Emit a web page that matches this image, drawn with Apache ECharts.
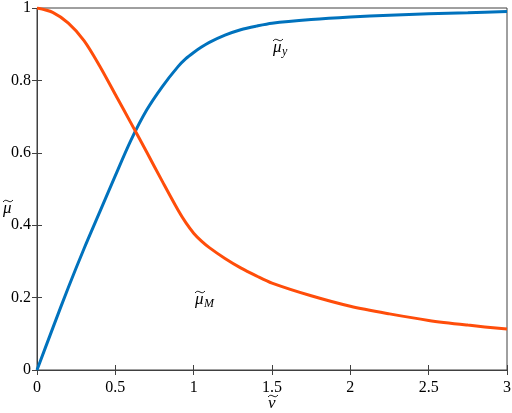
<!DOCTYPE html>
<html>
<head>
<meta charset="utf-8">
<script src="https://cdn.jsdelivr.net/npm/echarts@6/dist/echarts.min.js"></script>
<style>
html,body{margin:0;padding:0;background:#fff;}
#chart{width:512px;height:413px;}
</style>
</head>
<body>
<div id="chart"></div>
<script>
// values
var vTilde = [0, 0.1, 0.2, 0.3, 0.4, 0.5, 0.6, 0.7, 0.8, 0.9, 0.95, 1.0, 1.05, 1.1, 1.2, 1.3, 1.4, 1.5, 1.75, 2, 2.25, 2.5, 2.75, 3];
var muY = [0, 0.115, 0.228, 0.335, 0.436, 0.537, 0.635, 0.718, 0.783, 0.838, 0.86, 0.877, 0.892, 0.905, 0.925, 0.94, 0.95, 0.958, 0.968, 0.975, 0.98, 0.984, 0.987, 0.99];
var muM = [1, 0.988, 0.958, 0.91, 0.84, 0.761, 0.682, 0.602, 0.521, 0.442, 0.407, 0.378, 0.356, 0.338, 0.308, 0.282, 0.26, 0.24, 0.205, 0.176, 0.155, 0.137, 0.124, 0.113];
var xTicks = [0, 0.5, 1, 1.5, 2, 2.5, 3];
var yTicks = [0, 0.2, 0.4, 0.6, 0.8, 1];

function pairs(xs, ys) {
    var out = [];
    for (var i = 0; i < xs.length; i++) {
        out.push([xs[i], ys[i]]);
    }
    return out;
}

var serif = '"Liberation Serif", serif';
var axisColor = '#404040';

// a letter with a little wave over it, plus an optional subscript
function tildeLabel(x, y, letter, sub) {
    var kids = [
        {type: 'text', x: 0, y: 0, style: {text: letter, font: 'italic 17px ' + serif, fill: '#000', verticalAlign: 'middle'}},
        {type: 'bezierCurve', x: 0, y: -9,
            shape: {x1: 0, y1: 2, x2: 10, y2: 0, cpx1: 4, cpy1: -3, cpx2: 6, cpy2: 5},
            style: {fill: null, stroke: '#000', lineWidth: 0.9}}
    ];
    if (sub) {
        kids.push({type: 'text', x: 9, y: 4, style: {text: sub, font: 'italic 12px ' + serif, fill: '#000', verticalAlign: 'middle'}});
    }
    return {type: 'group', x: x, y: y, children: kids};
}

// tick text drawn through rich text so the serif face sticks
var tickRich = {t: {fontFamily: serif, fontSize: 16, color: '#000'}};
function tickText(val) {
    return '{t|' + val + '}';
}

var myChart = echarts.init(document.getElementById('chart'));
var option = {
    backgroundColor: '#fff',
    animation: false,
    textStyle: {fontFamily: serif},
    grid: {left: 37, right: 5, top: 8, bottom: 43, outerBoundsMode: 'none', containLabel: false, show: true, borderColor: axisColor, borderWidth: 1},
    xAxis: [
        {
            type: 'value', min: 0, max: 3, interval: 0.5,
            axisLine: {show: true, lineStyle: {color: axisColor}},
            axisTick: {inside: true, length: 5, lineStyle: {color: axisColor}},
            axisLabel: {fontFamily: serif, fontSize: 16, color: '#000', margin: 10, formatter: tickText, rich: tickRich},
            splitLine: {show: false}
        },
        {
            type: 'value', min: 0, max: 3, interval: 0.5, position: 'top',
            axisLine: {show: true, lineStyle: {color: axisColor}},
            axisTick: {inside: true, length: 5, lineStyle: {color: axisColor}},
            axisLabel: {show: false},
            splitLine: {show: false}
        }
    ],
    yAxis: [
        {
            type: 'value', min: 0, max: 1, interval: 0.2,
            axisLine: {show: true, lineStyle: {color: axisColor}},
            axisTick: {inside: true, length: 5, lineStyle: {color: axisColor}},
            axisLabel: {fontFamily: serif, fontSize: 16, color: '#000', margin: 6, formatter: tickText, rich: tickRich},
            splitLine: {show: false}
        },
        {
            type: 'value', min: 0, max: 1, interval: 0.2, position: 'right',
            axisLine: {show: true, lineStyle: {color: axisColor}},
            axisTick: {inside: true, length: 5, lineStyle: {color: axisColor}},
            axisLabel: {show: false},
            splitLine: {show: false}
        }
    ],
    series: [
        {
            type: 'line', smooth: 0.3, showSymbol: false,
            data: pairs(vTilde, muY),
            lineStyle: {color: '#0072BD', width: 3},
            itemStyle: {color: '#0072BD'}
        },
        {
            type: 'line', smooth: 0.3, showSymbol: false,
            data: pairs(vTilde, muM),
            lineStyle: {color: '#FF4D0A', width: 3},
            itemStyle: {color: '#FF4D0A'}
        }
    ],
    graphic: [
        tildeLabel(268, 404, 'v', null),
        tildeLabel(3, 209, 'μ', null),
        tildeLabel(273, 48, 'μ', 'y'),
        tildeLabel(195, 300, 'μ', 'M')
    ]
};
myChart.setOption(option);
</script>
</body>
</html>
